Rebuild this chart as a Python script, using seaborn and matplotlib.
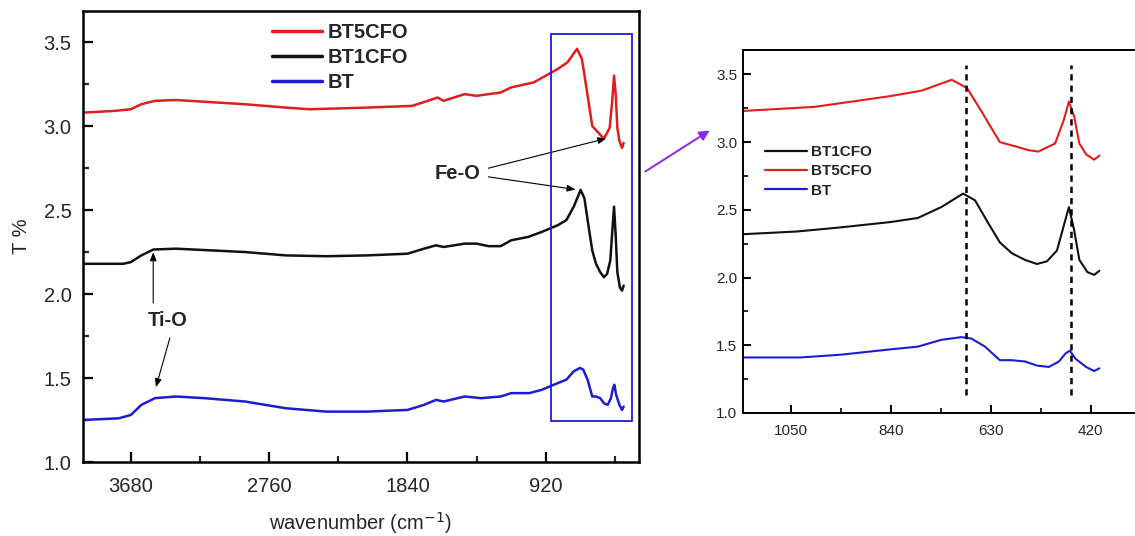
import numpy as np
import pandas as pd
import matplotlib
matplotlib.use("Agg")
import matplotlib.pyplot as plt
from matplotlib.lines import Line2D
from matplotlib.patches import Rectangle, FancyArrowPatch
from matplotlib.ticker import MultipleLocator
import seaborn as sns

# ---------------- data ----------------
bt5_wn = [4000, 3790, 3680, 3610, 3520, 3380, 2920, 2650, 2490, 2110, 1810, 1705, 1640, 1600,
          1460, 1380, 1220, 1150, 1000, 840, 775, 712, 680, 650, 611, 580, 550, 530, 495, 477,
          466, 455, 444, 430, 413, 402]
bt5_t = [3.08, 3.09, 3.10, 3.13, 3.15, 3.155, 3.13, 3.11, 3.10, 3.11, 3.12, 3.15, 3.17, 3.15,
         3.19, 3.18, 3.20, 3.23, 3.26, 3.34, 3.38, 3.46, 3.40, 3.23, 3.00, 2.97, 2.94, 2.93, 2.99, 3.16,
         3.30, 3.19, 2.99, 2.91, 2.87, 2.90]

bt1_wn = [4000, 3730, 3680, 3610, 3530, 3380, 2920, 2650, 2380, 2110, 1840, 1730, 1650, 1600,
          1460, 1380, 1300, 1220, 1150, 1037, 946, 840, 783, 734, 688, 663, 635, 611, 586, 558,
          533, 512, 491, 477, 466, 455, 444, 427, 413, 402]
bt1_t = [2.18, 2.18, 2.19, 2.23, 2.265, 2.27, 2.25, 2.23, 2.225, 2.23, 2.24, 2.27, 2.29, 2.28,
         2.30, 2.30, 2.285, 2.285, 2.32, 2.34, 2.37, 2.41, 2.44, 2.52, 2.62, 2.57, 2.40, 2.26, 2.18, 2.13,
         2.10, 2.12, 2.20, 2.38, 2.52, 2.35, 2.13, 2.04, 2.02, 2.05]

bt_wn = [4000, 3760, 3680, 3610, 3520, 3380, 3190, 2920, 2650, 2380, 2110, 1840, 1730, 1650,
         1600, 1460, 1350, 1220, 1150, 1030, 946, 840, 783, 734, 692, 671, 642, 611, 586, 558,
         533, 508, 487, 473, 464, 452, 430, 413, 402]
bt_t = [1.25, 1.26, 1.28, 1.34, 1.38, 1.39, 1.38, 1.36, 1.32, 1.30, 1.30, 1.31, 1.34, 1.37,
        1.36, 1.39, 1.38, 1.39, 1.41, 1.41, 1.43, 1.47, 1.49, 1.54, 1.56, 1.55, 1.49, 1.39, 1.39, 1.38,
        1.35, 1.34, 1.38, 1.44, 1.46, 1.40, 1.34, 1.31, 1.33]

samples = ["BT5CFO", "BT1CFO", "BT"]
colors = {"BT5CFO": "#e11d1d", "BT1CFO": "#111111", "BT": "#1c1cd2"}
main_ticks = [3680, 2760, 1840, 920]
inset_ticks = [1050, 840, 630, 420]
dashed_positions = [683, 461]

df = pd.concat([
    pd.DataFrame({"wn": bt5_wn, "T": bt5_t, "sample": "BT5CFO"}),
    pd.DataFrame({"wn": bt1_wn, "T": bt1_t, "sample": "BT1CFO"}),
    pd.DataFrame({"wn": bt_wn, "T": bt_t, "sample": "BT"}),
], ignore_index=True)

# ---------------- style ----------------
sns.set_style("ticks")
plt.rcParams["font.family"] = ["Liberation Sans", "DejaVu Sans"]
plt.rcParams["xtick.direction"] = "in"
plt.rcParams["ytick.direction"] = "in"

fig = plt.figure(figsize=(11.35, 5.36), dpi=100)
W, H = 1135, 536

# main axes
ax = fig.add_axes([82.7 / W, 1 - 462 / H, (639 - 82.7) / W, (462 - 11) / H])
sns.lineplot(data=df, x="wn", y="T", hue="sample", palette=colors, sort=False,
             estimator=None, ax=ax, legend=False, linewidth=1.8)
ax.set_xlim(4000, 300)
ax.set_ylim(1.0, 3.685)
ax.set_xticks(main_ticks)
ax.xaxis.set_minor_locator(MultipleLocator(460))
ax.yaxis.set_major_locator(MultipleLocator(0.5))
ax.yaxis.set_minor_locator(MultipleLocator(0.25))
ax.tick_params(which="major", length=7, width=1.6, labelsize=14.5, pad=8, color="black")
ax.tick_params(axis="x", which="major", pad=11)
ax.tick_params(which="minor", length=4.5, width=1.6)
for s in ax.spines.values():
    s.set_linewidth(1.8)
    s.set_color("black")
ax.set_xlabel("wavenumber (cm$^{-1}$)", fontsize=14.5, labelpad=10)
ax.set_ylabel("T %", fontsize=14.5, labelpad=9)

handles = [Line2D([], [], color=colors[s], lw=2.5) for s in samples]
ax.legend(handles, samples, loc="upper left", bbox_to_anchor=(0.318, 1.0), frameon=False,
          prop={"weight": "bold", "size": 14.5}, handlelength=2.5, handletextpad=0.3,
          labelspacing=0.3, borderaxespad=0.2)

ax.add_patch(Rectangle((887, 1.244), 348 - 887, 3.55 - 1.244, fill=False,
                       edgecolor="#1c1cd2", linewidth=1.3, zorder=5))

arrow_kw = dict(arrowstyle="-|>,head_length=0.5,head_width=0.2", color="black", lw=0.8)
ax.text(1510, 2.715, "Fe-O", fontsize=14.5, fontweight="bold", ha="center", va="center")
ax.annotate("", xy=(500, 2.93), xytext=(1320, 2.745), arrowprops=arrow_kw)
ax.annotate("", xy=(704, 2.62), xytext=(1320, 2.70), arrowprops=arrow_kw)
ax.text(3436, 1.84, "Ti-O", fontsize=14.5, fontweight="bold", ha="center", va="center")
ax.annotate("", xy=(3531, 2.265), xytext=(3531, 1.93), arrowprops=arrow_kw)
ax.annotate("", xy=(3518, 1.43), xytext=(3415, 1.755), arrowprops=arrow_kw)

# inset axes
ax2 = fig.add_axes([743 / W, 1 - 413 / H, 405 / W, (413 - 50) / H])
sns.lineplot(data=df, x="wn", y="T", hue="sample", palette=colors, sort=False,
             estimator=None, ax=ax2, legend=False, linewidth=1.5)
ax2.set_xlim(1150, 300)
ax2.set_ylim(1.0, 3.68)
ax2.set_xticks(inset_ticks)
ax2.xaxis.set_minor_locator(MultipleLocator(105))
ax2.yaxis.set_major_locator(MultipleLocator(0.5))
ax2.yaxis.set_minor_locator(MultipleLocator(0.25))
ax2.tick_params(which="major", length=6, width=1.4, labelsize=11, pad=4, color="black")
ax2.tick_params(axis="x", which="major", pad=8)
ax2.tick_params(which="minor", length=3.5, width=1.4)
for s in ax2.spines.values():
    s.set_linewidth(1.4)
    s.set_color("black")
ax2.set_xlabel("")
ax2.set_ylabel("")
for xv in dashed_positions:
    ax2.plot([xv, xv], [1.13, 3.57], color="black", linestyle=(0, (2.5, 2)), lw=1.8, zorder=4)

inset_order = ["BT1CFO", "BT5CFO", "BT"]
h2 = [Line2D([], [], color=colors[s], lw=1.6) for s in inset_order]
ax2.legend(h2, inset_order, loc="upper left", bbox_to_anchor=(0.04, 0.755), frameon=False,
           prop={"weight": "bold", "size": 11}, handlelength=2.7, handletextpad=0.3,
           labelspacing=0.35, borderaxespad=0.0)

# purple arrow connecting
fig.patches.append(FancyArrowPatch((643 / W, 1 - 173 / H), (712 / W, 1 - 129 / H),
                                   transform=fig.transFigure, arrowstyle="-|>,head_length=6,head_width=3",
                                   color="#8a2be2", lw=1.4, mutation_scale=1))

fig.savefig("out.png", dpi=100, facecolor="white")
